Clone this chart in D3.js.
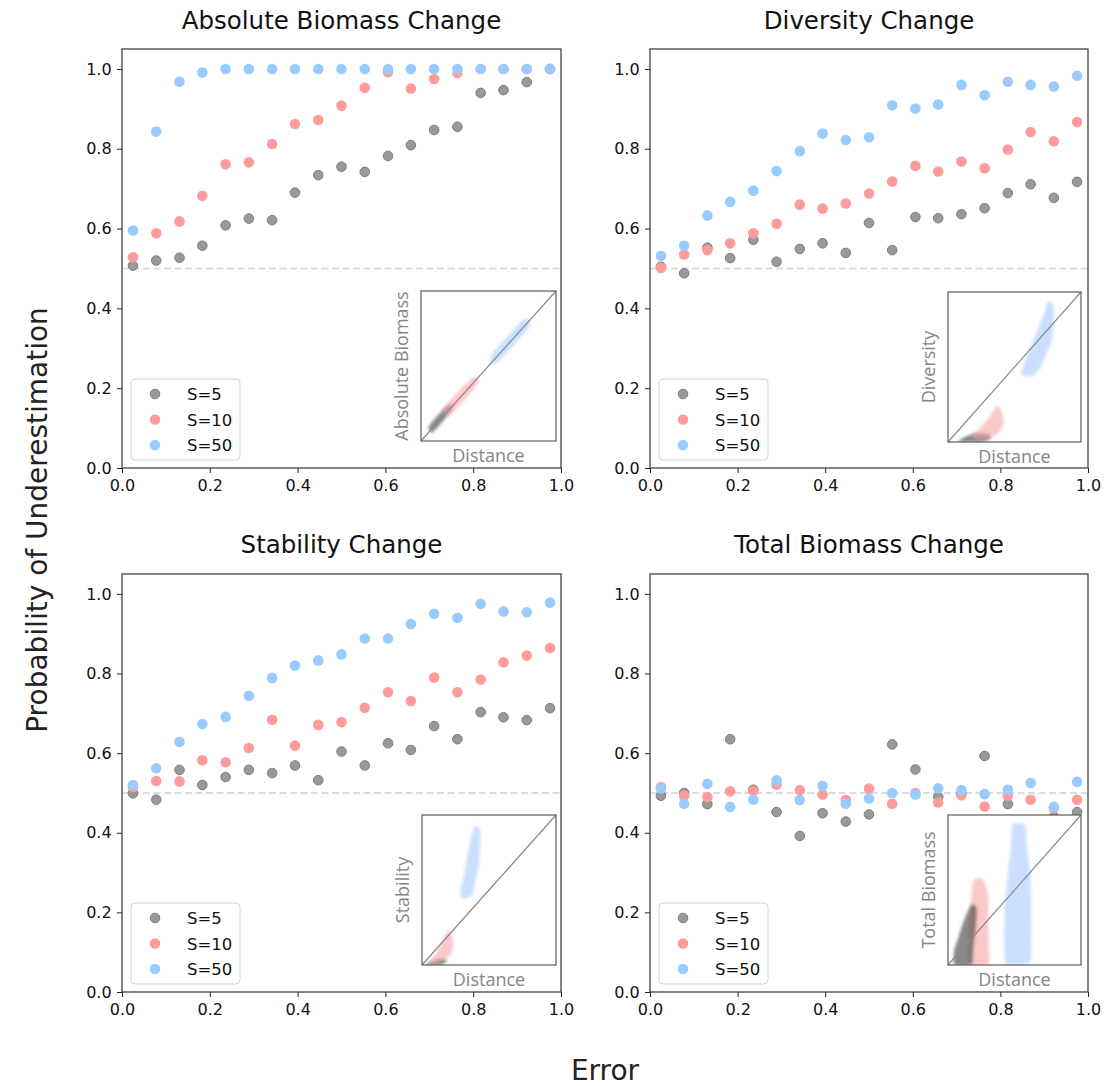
<!DOCTYPE html>
<html><head><meta charset="utf-8">
<script src="https://cdn.jsdelivr.net/npm/d3@7"></script>
<style>body{margin:0;background:#fff}svg{display:block}</style>
</head><body>
<svg id="c" width="1109" height="1086"></svg>
<script>
// ---------------- data ----------------
const errorX = [0.025,0.078,0.131,0.183,0.236,0.289,0.342,0.394,0.447,0.5,0.553,0.606,0.658,0.711,0.764,0.817,0.869,0.922,0.975];
const panelTitles = ["Absolute Biomass Change","Diversity Change","Stability Change","Total Biomass Change"];
const insetLabels = ["Absolute Biomass","Diversity","Stability","Total Biomass"];
const seriesNames = ["S=5","S=10","S=50"];
const tickValues = [0,0.2,0.4,0.6,0.8,1.0];

const absS5  = [0.507,0.520,0.527,0.557,0.608,0.625,0.621,0.690,0.734,0.755,0.742,0.782,0.809,0.847,0.855,0.940,0.947,0.967,1.0];
const absS10 = [0.528,0.588,0.618,0.682,0.761,0.766,0.812,0.862,0.872,0.908,0.953,0.992,0.951,0.975,0.990,1.0,1.0,1.0,1.0];
const absS50 = [0.595,0.843,0.968,0.991,1.0,1.0,1.0,1.0,1.0,1.0,1.0,1.0,1.0,1.0,1.0,1.0,1.0,1.0,1.0];

const divS5  = [0.504,0.488,0.552,0.526,0.572,0.517,0.549,0.563,0.539,0.614,0.546,0.629,0.626,0.636,0.651,0.689,0.711,0.677,0.717];
const divS10 = [0.501,0.535,0.546,0.563,0.588,0.612,0.660,0.650,0.663,0.688,0.718,0.757,0.743,0.768,0.751,0.798,0.842,0.819,0.867];
const divS50 = [0.532,0.557,0.633,0.667,0.695,0.744,0.794,0.838,0.822,0.829,0.909,0.901,0.911,0.960,0.934,0.968,0.960,0.956,0.983];

const stabS5  = [0.499,0.483,0.558,0.520,0.540,0.558,0.550,0.569,0.532,0.604,0.569,0.625,0.608,0.668,0.635,0.703,0.690,0.683,0.713];
const stabS10 = [0.515,0.530,0.529,0.582,0.577,0.613,0.684,0.619,0.671,0.678,0.714,0.753,0.731,0.790,0.753,0.785,0.828,0.845,0.864];
const stabS50 = [0.520,0.562,0.628,0.673,0.691,0.744,0.789,0.820,0.833,0.848,0.888,0.888,0.924,0.950,0.940,0.975,0.956,0.954,0.978];

const totS5  = [0.493,0.500,0.472,0.635,0.508,0.452,0.392,0.449,0.428,0.446,0.622,0.559,0.490,0.497,0.593,0.472,0.430,0.440,0.452];
const totS10 = [0.515,0.493,0.490,0.504,0.505,0.521,0.507,0.496,0.482,0.511,0.473,0.500,0.476,0.494,0.466,0.493,0.483,0.462,0.483];
const totS50 = [0.511,0.473,0.523,0.465,0.483,0.532,0.482,0.518,0.473,0.486,0.500,0.496,0.512,0.507,0.497,0.508,0.525,0.465,0.528];

// inset clouds (normalized inset coordinates: x = distance, y = change metric)
const insAbsS5  = [[0.06,0.10],[0.20,0.24],[0.23,0.21],[0.09,0.06]];
const insAbsS10 = [[0.17,0.22],[0.38,0.42],[0.42,0.38],[0.21,0.17]];
const insAbsS50 = [[0.52,0.57],[0.76,0.81],[0.80,0.76],[0.56,0.52]];

const insDivS5  = [[0.080,0.007],[0.143,0.040],[0.218,0.058],[0.306,0.051],[0.318,0.022],[0.256,0.004],[0.105,0.0]];
const insDivS10 = [[0.381,0.239],[0.406,0.195],[0.419,0.129],[0.381,0.062],[0.306,0.022],[0.218,0.018],[0.180,0.040],[0.256,0.106],[0.318,0.173],[0.356,0.228]];
const insDivS50 = [[0.744,0.931],[0.794,0.916],[0.794,0.794],[0.782,0.683],[0.732,0.572],[0.694,0.494],[0.632,0.439],[0.556,0.450],[0.569,0.517],[0.607,0.594],[0.644,0.683],[0.694,0.794],[0.732,0.882]];

const insStabS5  = [[0.025,0.004],[0.062,0.022],[0.149,0.044],[0.187,0.027],[0.137,0.0],[0.037,0.0]];
const insStabS10 = [[0.199,0.233],[0.224,0.200],[0.231,0.111],[0.199,0.056],[0.137,0.022],[0.087,0.004],[0.062,0.033],[0.124,0.100],[0.162,0.178]];
const insStabS50 = [[0.398,0.933],[0.430,0.900],[0.435,0.800],[0.423,0.667],[0.398,0.556],[0.373,0.467],[0.299,0.444],[0.286,0.500],[0.311,0.578],[0.336,0.711],[0.361,0.822],[0.386,0.911]];

const insTotS5  = [[0.176,0.400],[0.214,0.378],[0.207,0.244],[0.189,0.111],[0.176,0.004],[0.050,0.004],[0.045,0.089],[0.076,0.178],[0.126,0.311]];
const insTotS10 = [[0.214,0.578],[0.264,0.567],[0.302,0.467],[0.302,0.289],[0.307,0.111],[0.302,0.004],[0.164,0.0],[0.151,0.133],[0.164,0.311],[0.176,0.467],[0.189,0.556]];
const insTotS50 = [[0.504,0.944],[0.579,0.933],[0.592,0.800],[0.617,0.622],[0.625,0.400],[0.625,0.178],[0.617,0.022],[0.479,0.004],[0.428,0.022],[0.423,0.178],[0.428,0.400],[0.453,0.622],[0.474,0.800],[0.484,0.933]];

// ---------------- build ----------------
const panelSeries = [[absS5,absS10,absS50],[divS5,divS10,divS50],[stabS5,stabS10,stabS50],[totS5,totS10,totS50]];
const panelInsets = [[insAbsS5,insAbsS10,insAbsS50],[insDivS5,insDivS10,insDivS50],[insStabS5,insStabS10,insStabS50],[insTotS5,insTotS10,insTotS50]];
const colors = ["#999999","#ff9b9b","#99cbff"];
const strokes = ["#7e7e7e","none","none"];
const radii = [4.8,5.3,5.3];
const insetColors = ["#4a4a4a","#f6a3a3","#a9cbff"];
const insetOpac = [0.65,0.6,0.62];

const svg = d3.select("#c");
const FONT = "DejaVu Sans, sans-serif";
const defs = svg.append("defs");
defs.append("filter").attr("id","blur").attr("x","-20%").attr("y","-20%").attr("width","140%").attr("height","140%")
  .append("feGaussianBlur").attr("stdDeviation",1.6);

const layout = [
  {x0:122,x1:561,y0:49,y1:468, ins:{x:421,y:291,w:135,h:150}, titleY:29},
  {x0:650,x1:1088,y0:49,y1:468, ins:{x:948,y:292,w:133,h:150}, titleY:29},
  {x0:122,x1:561,y0:574,y1:992, ins:{x:422,y:815,w:134,h:150}, titleY:553},
  {x0:650,x1:1088,y0:574,y1:992, ins:{x:948,y:815,w:133,h:150}, titleY:553}
];

layout.forEach((L,pi)=>{
  const x = d3.scaleLinear().domain([0,1]).range([L.x0,L.x1]);
  const y = d3.scaleLinear().domain([0,1.05]).range([L.y1,L.y0]);
  const g = svg.append("g");

  // dashed 0.5 line
  g.append("line").attr("x1",L.x0).attr("x2",L.x1).attr("y1",y(0.5)).attr("y2",y(0.5))
    .attr("stroke","#dcdcdc").attr("stroke-width",2).attr("stroke-dasharray","7,3.5");

  // points
  panelSeries[pi].forEach((vals,si)=>{
    g.append("g").selectAll("circle").data(vals).join("circle")
      .attr("cx",(d,i)=>x(errorX[i])).attr("cy",d=>y(d)).attr("r",radii[si])
      .attr("fill",colors[si]).attr("stroke",strokes[si]).attr("stroke-width",1);
  });

  // inset
  const I = L.ins;
  const ix = d3.scaleLinear().domain([0,1]).range([I.x,I.x+I.w]);
  const iy = d3.scaleLinear().domain([0,1]).range([I.y+I.h,I.y]);
  const ig = g.append("g");
  ig.append("rect").attr("x",I.x).attr("y",I.y).attr("width",I.w).attr("height",I.h).attr("fill","#fff");
  const clipId = "clip"+pi;
  defs.append("clipPath").attr("id",clipId).append("rect").attr("x",I.x).attr("y",I.y).attr("width",I.w).attr("height",I.h);
  const cg = ig.append("g").attr("clip-path",`url(#${clipId})`);
  const line = d3.line().x(d=>ix(d[0])).y(d=>iy(d[1])).curve(d3.curveCardinalClosed.tension(0.3));
  const order = pi===3 ? [1,0,2] : [0,1,2];
  order.forEach(si=>{
    cg.append("path").attr("d",line(panelInsets[pi][si])).attr("fill",insetColors[si])
      .attr("fill-opacity",insetOpac[si]).attr("filter","url(#blur)");
  });
  ig.append("line").attr("x1",ix(0)).attr("y1",iy(0)).attr("x2",ix(1)).attr("y2",iy(1))
    .attr("stroke","#8a8a8a").attr("stroke-width",1.2);
  ig.append("rect").attr("x",I.x).attr("y",I.y).attr("width",I.w).attr("height",I.h)
    .attr("fill","none").attr("stroke","#5a5a5a").attr("stroke-width",1.2);
  ig.append("text").attr("x",I.x+I.w/2).attr("y",I.y+I.h+21).attr("text-anchor","middle")
    .attr("font-family","Open Sans, sans-serif").attr("font-size",18).attr("fill","#858585").text("Distance");
  ig.append("text").attr("transform",`translate(${I.x-13},${I.y+I.h/2}) rotate(-90)`).attr("text-anchor","middle")
    .attr("font-family","Open Sans, sans-serif").attr("font-size",18).attr("fill","#858585").text(insetLabels[pi]);

  // legend
  const lg = g.append("g");
  const lx = L.x0+9, ly = L.y1-89;
  lg.append("rect").attr("x",lx).attr("y",ly).attr("width",109).attr("height",81).attr("rx",4)
    .attr("fill","#fff").attr("fill-opacity",0.8).attr("stroke","#d3d3d3").attr("stroke-width",1);
  seriesNames.forEach((s,si)=>{
    const cy = ly+15+si*25.5;
    lg.append("circle").attr("cx",lx+24).attr("cy",cy).attr("r",radii[si]).attr("fill",colors[si])
      .attr("stroke",strokes[si]).attr("stroke-width",1);
    lg.append("text").attr("x",lx+56).attr("y",cy+6).attr("font-family",FONT).attr("font-size",16.5)
      .attr("fill","#111").text(s);
  });

  // axes
  const xa = g.append("g").attr("transform",`translate(0,${L.y1})`)
    .call(d3.axisBottom(x).tickValues(tickValues).tickFormat(d3.format(".1f")).tickSizeOuter(0).tickSize(5));
  const ya = g.append("g").attr("transform",`translate(${L.x0},0)`)
    .call(d3.axisLeft(y).tickValues(tickValues).tickFormat(d3.format(".1f")).tickSizeOuter(0).tickSize(5));
  [xa,ya].forEach(a=>{
    a.select(".domain").remove();
    a.selectAll("text").attr("font-family",FONT).attr("font-size",16).attr("fill","#111");
    a.selectAll("line").attr("stroke","#222");
  });
  xa.selectAll("text").attr("dy","0.95em");
  ya.selectAll("text").attr("dx","-0.15em");

  // frame
  g.append("rect").attr("x",L.x0).attr("y",L.y0).attr("width",L.x1-L.x0).attr("height",L.y1-L.y0)
    .attr("fill","none").attr("stroke","#333").attr("stroke-width",1.2);

  // title
  g.append("text").attr("x",(L.x0+L.x1)/2).attr("y",L.titleY).attr("text-anchor","middle")
    .attr("font-family",FONT).attr("font-size",24.5).attr("fill","#111").text(panelTitles[pi]);
});

svg.append("text").attr("x",605).attr("y",1080).attr("text-anchor","middle")
  .attr("font-family",FONT).attr("font-size",28).attr("fill","#222").text("Error");
svg.append("text").attr("transform","translate(47,520) rotate(-90)").attr("text-anchor","middle")
  .attr("font-family",FONT).attr("font-size",28).attr("fill","#222").text("Probability of Underestimation");
</script>
</body></html>
